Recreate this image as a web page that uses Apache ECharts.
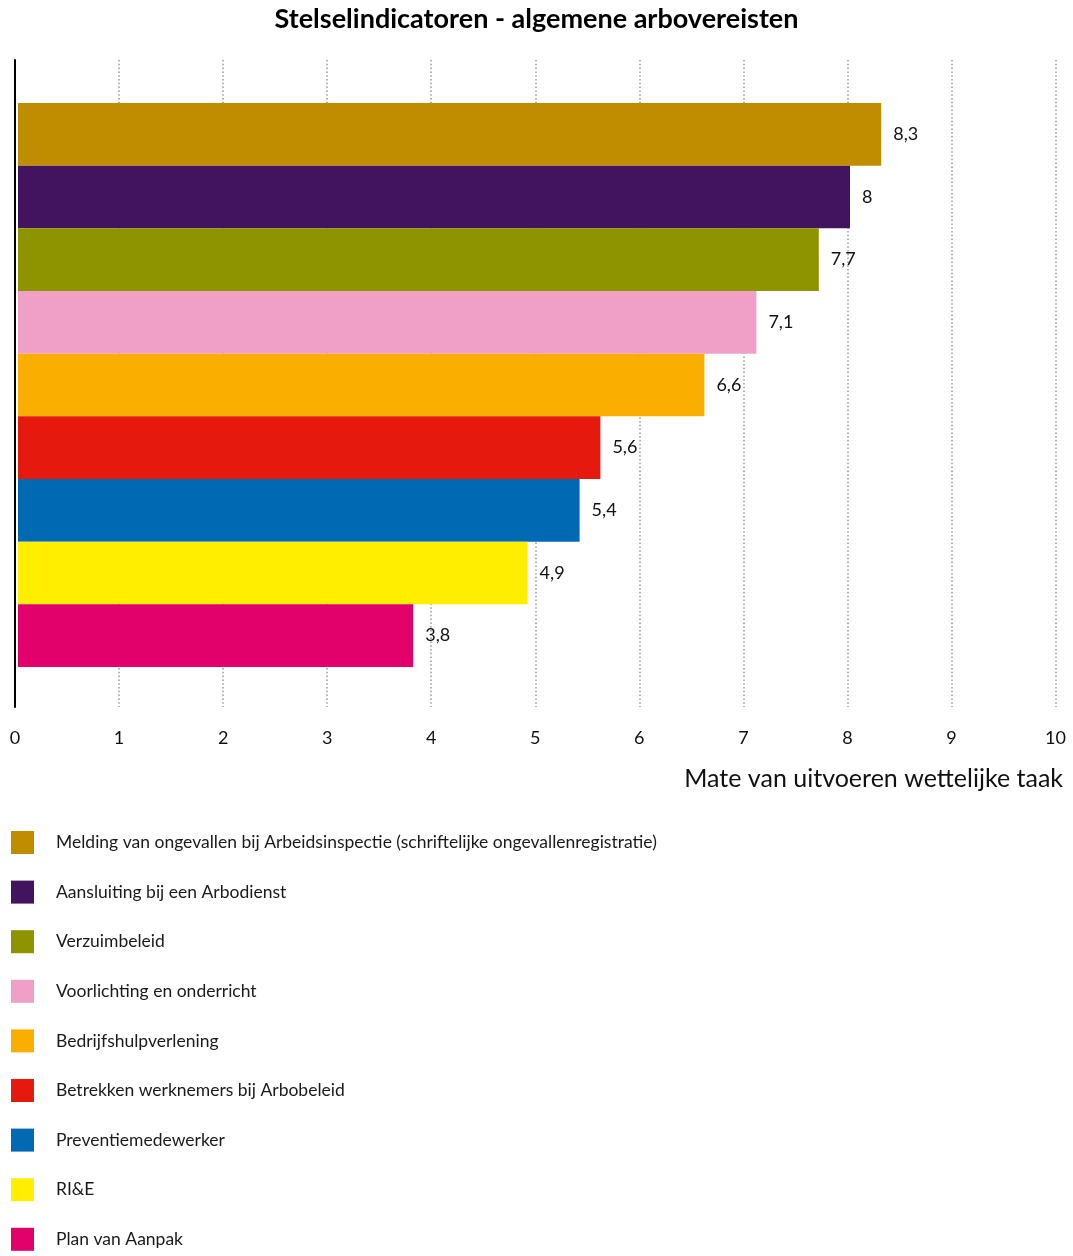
<!DOCTYPE html>
<html>
<head>
<meta charset="utf-8">
<script src="https://cdn.jsdelivr.net/npm/echarts@6/dist/echarts.min.js"></script>
<style>html,body{margin:0;padding:0;background:#fff}#c{width:1073px;height:1256px}</style>
</head>
<body>
<div id="c"></div>
<script>
const categories = [
  "Melding van ongevallen bij Arbeidsinspectie (schriftelijke ongevallenregistratie)",
  "Aansluiting bij een Arbodienst",
  "Verzuimbeleid",
  "Voorlichting en onderricht",
  "Bedrijfshulpverlening",
  "Betrekken werknemers bij Arbobeleid",
  "Preventiemedewerker",
  "RI&E",
  "Plan van Aanpak"
];
const values = [8.3, 8, 7.7, 7.1, 6.6, 5.6, 5.4, 4.9, 3.8];
const colors = ["#C08D00", "#42145F", "#8E9400", "#F09FC6", "#FAAE00", "#E5190E", "#0069B4", "#FFEE00", "#E2006B"];
const xTicks = [0,1,2,3,4,5,6,7,8,9,10];
const xAxisName = 'Mate van uitvoeren wettelijke taak';
const FONT = "Lato";

const series = categories.map((name, i) => ({
  name: name,
  type: 'bar',
  xAxisIndex: 1,
  yAxisIndex: 1,
  stack: 'all',
  barCategoryGap: 0,
  itemStyle: { color: colors[i] },
  label: {
    show: true, position: 'right', distance: 12,
    fontFamily: FONT, fontSize: 18, color: '#111',
    formatter: p => String(p.value).replace('.', ',')
  },
  data: categories.map((c, j) => j === i ? values[i] : '-')
}));

const chart = echarts.init(document.getElementById('c'));
chart.setOption({
  animation: false,
  title: [
    {
      text: 'Stelselindicatoren - algemene arbovereisten',
      left: 'center', top: 6, padding: 0,
      textStyle: { fontFamily: FONT, fontWeight: 'bold', fontSize: 27, color: '#000' }
    },
    {
      text: xAxisName,
      right: 10, top: 765, padding: 0,
      textStyle: { fontFamily: FONT, fontWeight: 'normal', fontSize: 25, color: '#111', lineHeight: 28 }
    }
  ],
  legend: {
    orient: 'vertical', left: 11, top: 831, padding: 0,
    itemWidth: 23, itemHeight: 23, itemGap: 26.6,
    icon: 'rect',
    textStyle: { fontFamily: FONT, fontSize: 17.5, color: '#1a1a1a', padding: [0,0,0,17] },
    data: categories
  },
  grid: [
    { left: 15, right: 17.5, top: 60, bottom: 549, outerBoundsMode: 'none', containLabel: false },
    { left: 18, right: 15, top: 103, height: 564, outerBoundsMode: 'none', containLabel: false }
  ],
  xAxis: [
    {
      gridIndex: 0, type: 'value', min: 0, max: 10, interval: 1,
      axisLine: { show: false }, axisTick: { show: false },
      axisLabel: { margin: 22, fontFamily: FONT, fontSize: 18, color: '#111',
        formatter: v => xTicks.includes(v) ? String(v) : '' },
      splitLine: { show: true, lineStyle: { color: '#999', width: 1.5, type: [1.5, 2.3] } }
    },
    { gridIndex: 1, type: 'value', min: 0, max: 10, show: false }
  ],
  yAxis: [
    {
      gridIndex: 0, type: 'value', min: 0, max: 1,
      axisLine: { show: true, lineStyle: { color: '#000', width: 2 } },
      axisTick: { show: false }, axisLabel: { show: false }, splitLine: { show: false }
    },
    { gridIndex: 1, type: 'category', data: categories, inverse: true, show: false }
  ],
  series: series
});
</script>
</body>
</html>
